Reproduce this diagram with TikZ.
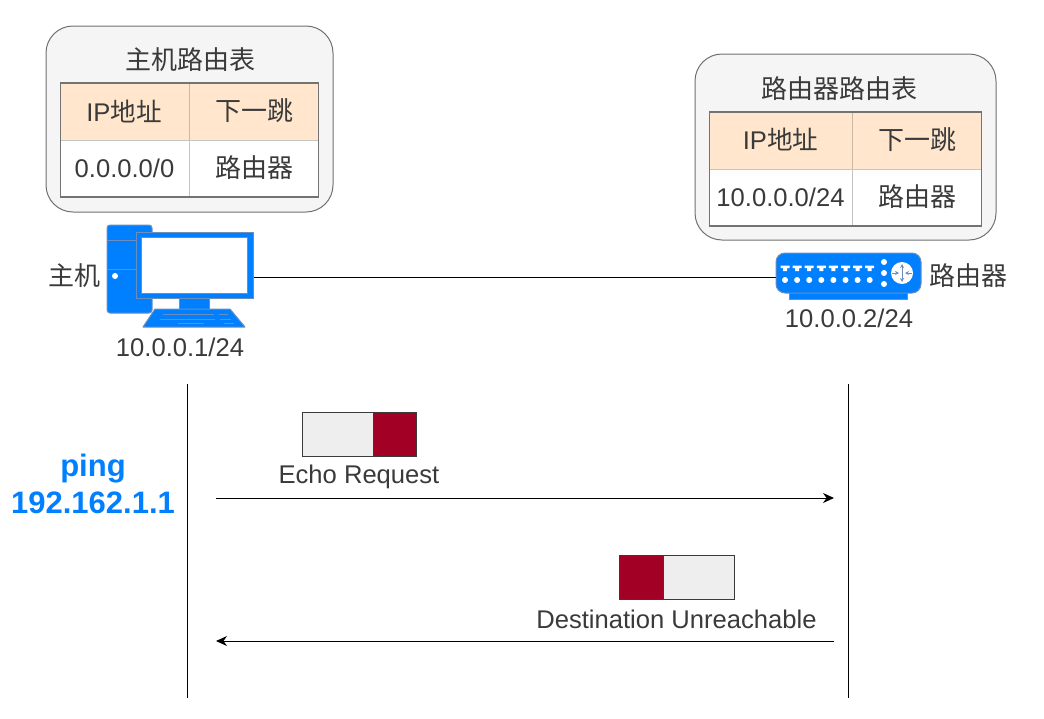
\documentclass[tikz,border=0pt]{standalone}
\usepackage{fontspec}
\setmainfont{Liberation Sans}
\newfontfamily\cjk{Noto Sans CJK SC}
\usetikzlibrary{arrows.meta}
\definecolor{ink}{HTML}{3A3A3A}
\definecolor{iconblue}{HTML}{007FFF}
\definecolor{iconline}{HTML}{6C8EBF}
\definecolor{headfill}{HTML}{FFE6CC}
\definecolor{headline}{HTML}{C8B8A4}
\definecolor{panelfill}{HTML}{F5F5F5}
\definecolor{panelline}{HTML}{707070}
\definecolor{pktred}{HTML}{A20025}
\definecolor{pktgrey}{HTML}{EEEEEE}
\definecolor{cellline}{HTML}{C4C4C4}
\tikzset{
 x=1pt,y=-1pt,
 txt/.style={text=ink,font=\fontsize{25.6}{28}\selectfont,inner sep=0pt},
 cjktxt/.style={text=ink,font=\fontsize{26}{28}\selectfont\cjk,inner sep=0pt},
 panel/.style={draw=panelline,fill=panelfill,line width=1pt,rounded corners=27pt},
 cell/.style={draw=cellline,line width=1pt,fill=white,minimum height=57pt,inner sep=0pt,anchor=center},
 headcell/.style={cell,fill=headfill,draw=headline},
 tablebox/.style={draw=black!55,line width=1.2pt},
 pkt/.style={draw=ink,line width=.7pt,minimum height=44pt,inner sep=0pt,anchor=north west},
 flow/.style={draw=black,line width=1pt,-{Stealth[length=11pt,width=10pt]}},
 life/.style={draw=black,line width=1pt},
 icon/.style={fill=iconblue,draw=iconline,line width=1pt},
 iconthin/.style={draw=iconline,line width=.9pt},
 dotw/.style={fill=white,draw=none},
}
\begin{document}
\begin{tikzpicture}
\useasboundingbox (0,0) rectangle (1044,718);
% panels
\draw[panel] (46,26) rectangle (333,212);
\draw[panel] (695,54) rectangle (996,240);
\node[cjktxt] (t1) at (190,60) {主机路由表};
\node[cjktxt] (t2) at (839,89) {路由器路由表};
% host table
\node[headcell,minimum width=129pt] (h1a) at (125,111.5) {};
\node[headcell,minimum width=129pt] (h1b) at (254,111.5) {};
\node[cell,minimum width=129pt] (c1a) at (125,168.5) {};
\node[cell,minimum width=129pt] (c1b) at (254,168.5) {};
\draw[tablebox] (60.5,83) rectangle (318.5,197);
\node[txt] (h1at) at (124,111) {IP{\cjk 地址}};
\node[cjktxt] (h1bt) at (254,111) {下一跳};
\node[txt] (c1at) at (124.5,168) {0.0.0.0/0};
\node[cjktxt] (c1bt) at (254,168) {路由器};
% router table
\node[headcell,minimum width=143pt] (h2a) at (781,140.5) {};
\node[headcell,minimum width=129pt] (h2b) at (917,140.5) {};
\node[cell,minimum width=143pt] (c2a) at (781,197.5) {};
\node[cell,minimum width=129pt] (c2b) at (917,197.5) {};
\draw[tablebox] (709.5,112) rectangle (981.5,226);
\node[txt] (h2at) at (780.5,139.5) {IP{\cjk 地址}};
\node[cjktxt] (h2bt) at (917,139.5) {下一跳};
\node[txt] (c2at) at (780.5,197) {10.0.0.0/24};
\node[cjktxt] (c2bt) at (917,197) {路由器};
% host icon
\draw[icon,rounded corners=3pt] (107,225) rectangle (152,313);
\draw[iconthin] (107,240) -- (137,240) (107,269) -- (137,269);
\fill[dotw] (115,276) circle (3pt);
\draw[icon] (179,297) rectangle (209,310);
\draw[icon,line join=round] (155,309) -- (230,309) -- (245,327) -- (143,327) -- cycle;
\draw[iconthin] (163,314) -- (214,314) (219,314) -- (228,314)
  (160,319) -- (215,319) (220,319) -- (231,319)
  (178,323.5) -- (204,323.5) (224,323.5) -- (234,323.5);
\node[draw=iconline,fill=iconblue,line width=1pt,minimum width=117pt,minimum height=66pt,inner sep=0pt] (monitor) at (194.5,265) {};
\draw[fill=white,draw=iconline,line width=.9pt] (141,237) rectangle (247,293);
% router icon
\draw[fill=iconblue,draw=iconline,line width=1pt] (789,290) rectangle (907,299);
\node[icon,rounded corners=9pt,minimum width=145pt,minimum height=40pt,inner sep=0pt] (router) at (848.5,273) {};
\foreach \i in {0,...,7}{
  \fill[dotw] ({785+12.1*\i},280) circle (3pt);
  \fill[dotw] ({785+12.1*\i-4.5},265.5) -- ({785+12.1*\i+4.5},265.5) -- ({785+12.1*\i+4.5},268)
     -- ({785+12.1*\i+2},268) -- ({785+12.1*\i+2},271) -- ({785+12.1*\i-2},271)
     -- ({785+12.1*\i-2},268) -- ({785+12.1*\i-4.5},268) -- cycle;
}
\foreach \y in {262,273,284} \fill[dotw] (884,\y) circle (3pt);
\fill[dotw] (902,273) circle (11pt);
\draw[iconline,line width=1pt,{Stealth[length=4pt,width=4pt]}-{Stealth[length=4pt,width=4pt]}] (902,264) -- (902,282);
\draw[iconline,line width=1pt,-{Stealth[length=4pt,width=4pt]}] (892,273) -- (899,273);
\draw[iconline,line width=1pt,-{Stealth[length=4pt,width=4pt]}] (912,273) -- (905,273);
% link
\coordinate (lk) at (500,277);
\draw[line width=1pt,black] (monitor.east|-lk) -- (router.west|-lk);
% labels
\node[cjktxt] (lh) at (74,276) {主机};
\node[cjktxt] (lr) at (968,276) {路由器};
\node[txt] (iph) at (180,347) {10.0.0.1/24};
\node[txt] (ipr) at (849,318) {10.0.0.2/24};
% lifelines
\coordinate (la) at (187,384); \coordinate (lb) at (187,698);
\coordinate (ra) at (848,384); \coordinate (rb) at (848,698);
\draw[life] (la) -- (lb);
\draw[life] (ra) -- (rb);
\node[text=iconblue,font=\fontsize{31}{37}\selectfont\bfseries,align=center,inner sep=0pt] (ping) at (93,484) {ping\\192.162.1.1};
% packets
\node[pkt,fill=pktgrey,minimum width=71pt] (p1a) at (301.5,412) {};
\node[pkt,fill=pktred,minimum width=43pt] (p1b) at (372.5,412) {};
\node[txt] (l1) at (359,476.5) {Echo Request};
\node[pkt,fill=pktred,minimum width=44pt] (p2a) at (618.5,555) {};
\node[pkt,fill=pktgrey,minimum width=71pt] (p2b) at (662.5,555) {};
\node[txt] (l2) at (676.5,619) {Destination Unreachable};
% messages
\coordinate (m1a) at (216,498); \coordinate (m1b) at (834,498);
\coordinate (m2a) at (834,641); \coordinate (m2b) at (216,641);
\draw[flow] (m1a) -- (m1b);
\draw[flow] (m2a) -- (m2b);
\end{tikzpicture}
\end{document}
